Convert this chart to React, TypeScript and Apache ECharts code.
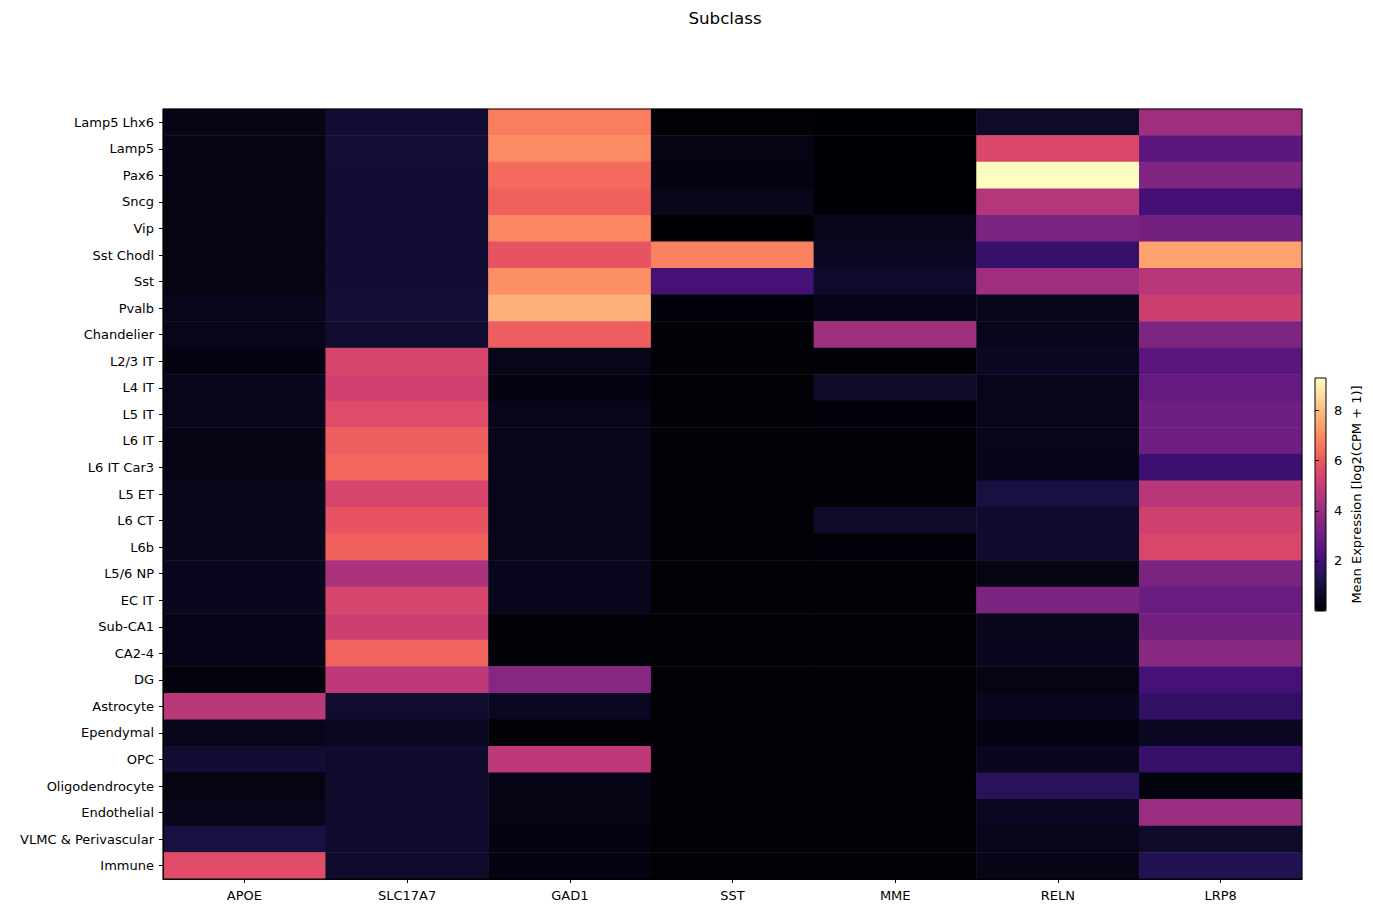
import React, { useEffect, useRef } from "react";
import * as echarts from "echarts";

// Cell types (rows, top to bottom) and genes (columns)
const subclasses = [
  "Lamp5 Lhx6", "Lamp5", "Pax6", "Sncg", "Vip", "Sst Chodl", "Sst", "Pvalb",
  "Chandelier", "L2/3 IT", "L4 IT", "L5 IT", "L6 IT", "L6 IT Car3", "L5 ET",
  "L6 CT", "L6b", "L5/6 NP", "EC IT", "Sub-CA1", "CA2-4", "DG", "Astrocyte",
  "Ependymal", "OPC", "Oligodendrocyte", "Endothelial", "VLMC & Perivascular", "Immune",
];
const genes = ["APOE", "SLC17A7", "GAD1", "SST", "MME", "RELN", "LRP8"];

// Mean expression per gene, one value per subclass (log2(CPM + 1))
const APOE = [0.35, 0.35, 0.35, 0.28, 0.3, 0.3, 0.3, 0.4, 0.4, 0.25, 0.4, 0.4, 0.35, 0.33, 0.45, 0.45, 0.45, 0.5, 0.5, 0.38, 0.38, 0.2, 4.7, 0.45, 0.9, 0.3, 0.45, 1.1, 5.65];
const SLC17A7 = [0.9, 0.95, 0.85, 0.85, 0.85, 0.85, 0.9, 0.95, 0.8, 5.35, 5.25, 5.65, 6.1, 6.3, 5.4, 5.85, 6.2, 4.4, 5.4, 5.15, 6.25, 4.8, 0.8, 0.55, 0.75, 0.75, 0.75, 0.75, 0.75];
const GAD1 = [6.75, 7.0, 6.4, 6.2, 6.95, 5.85, 7.1, 7.8, 6.1, 0.4, 0.25, 0.4, 0.4, 0.4, 0.4, 0.4, 0.4, 0.5, 0.5, 0.05, 0.05, 3.6, 0.55, 0.05, 4.8, 0.35, 0.3, 0.25, 0.25];
const SST = [0.08, 0.35, 0.25, 0.45, 0.02, 6.85, 2.1, 0.15, 0.08, 0.04, 0.04, 0.04, 0.04, 0.04, 0.04, 0.04, 0.04, 0.04, 0.04, 0.04, 0.04, 0.04, 0.04, 0.04, 0.04, 0.04, 0.04, 0.04, 0.04];
const MME = [0.02, 0.02, 0.02, 0.02, 0.45, 0.55, 0.75, 0.38, 4.15, 0.05, 0.7, 0.1, 0.08, 0.08, 0.08, 0.72, 0.1, 0.04, 0.04, 0.04, 0.04, 0.04, 0.04, 0.04, 0.04, 0.04, 0.04, 0.04, 0.04];
const RELN = [0.7, 5.5, 9.3, 4.6, 3.3, 1.75, 4.15, 0.45, 0.45, 0.6, 0.4, 0.4, 0.4, 0.38, 1.1, 0.75, 0.75, 0.3, 3.3, 0.45, 0.5, 0.3, 0.5, 0.25, 0.5, 1.5, 0.55, 0.42, 0.38];
const LRP8 = [4.15, 2.6, 3.45, 2.05, 3.15, 7.5, 4.65, 5.15, 3.4, 2.55, 2.8, 3.05, 3.05, 1.9, 4.65, 5.2, 5.45, 3.3, 2.9, 3.15, 3.65, 2.1, 1.65, 0.55, 1.75, 0.2, 4.0, 0.7, 1.35];

const expression = [APOE, SLC17A7, GAD1, SST, MME, RELN, LRP8];

// Colour bar range and ticks
const colorMin = 0;
const colorMax = 9.3;
const colorTicks = [2, 4, 6, 8];

const magma = [
  "#000004", "#07061C", "#140E36", "#251255", "#3B0F70", "#51127C", "#641A80",
  "#782281", "#8C2981", "#A1307E", "#B73779", "#CA3E72", "#DE4968", "#ED5A5F",
  "#F7705C", "#FC8961", "#FE9F6D", "#FEB77E", "#FECF92", "#FDE7A9", "#FCFDBF",
];

const FONT = "DejaVu Sans";
const TICK_FONT = 13;

export default function App() {
  const ref = useRef<HTMLDivElement>(null);

  useEffect(() => {
    document.body.style.margin = "0";
    if (!ref.current) return;
    const chart = echarts.init(ref.current, null, { renderer: "svg" });

    const cells: [number, number, number][] = [];
    expression.forEach((col, gi) => {
      col.forEach((v, ri) => cells.push([gi, ri, v]));
    });

    const plot = { left: 163, top: 109, width: 1139, height: 770 };
    const bar = { left: 1315, top: 378, width: 11, height: 233 };

    chart.setOption({
      animation: false,
      backgroundColor: "#ffffff",
      title: {
        text: "Subclass",
        left: 720,
        textAlign: "center",
        top: 4,
        textStyle: { fontFamily: FONT, fontSize: 16.7, fontWeight: "normal", color: "#000" },
      },
      grid: [
        { ...plot, show: true, borderColor: "#000", borderWidth: 1, backgroundColor: "transparent", z: 10 },
        { ...bar, show: true, borderColor: "#000", borderWidth: 1, backgroundColor: "transparent", z: 10 },
      ],
      xAxis: [
        {
          type: "category",
          gridIndex: 0,
          data: genes,
          axisLine: { show: true, lineStyle: { color: "#000", width: 1 } },
          axisTick: { show: true, alignWithLabel: true, length: 4, lineStyle: { color: "#000" } },
          axisLabel: { color: "#000", fontFamily: FONT, fontSize: TICK_FONT, margin: 10 },
          splitLine: { show: false },
          z: 10,
        },
        { type: "value", gridIndex: 1, show: false, min: 0, max: 1 },
      ],
      yAxis: [
        {
          type: "category",
          gridIndex: 0,
          data: subclasses,
          inverse: true,
          axisLine: { show: true, lineStyle: { color: "#000", width: 1 } },
          axisTick: { show: true, alignWithLabel: true, length: 4, lineStyle: { color: "#000" } },
          axisLabel: {
            color: "#000",
            fontFamily: FONT,
            fontSize: TICK_FONT,
            margin: 9,
            padding: [4, 0, 0, 0],
          },
          splitLine: { show: false },
          z: 10,
        },
        {
          type: "value",
          gridIndex: 1,
          position: "right",
          min: colorMin,
          max: colorMax,
          axisLine: { show: false },
          axisTick: { show: true, length: 4, lineStyle: { color: "#000" }, customValues: colorTicks },
          axisLabel: { color: "#000", fontFamily: FONT, fontSize: TICK_FONT, margin: 8, customValues: colorTicks },
          splitLine: { show: false },
          name: "Mean Expression [log2(CPM + 1)]",
          nameLocation: "middle",
          nameRotate: 90,
          nameGap: 24,
          nameTextStyle: { color: "#000", fontFamily: FONT, fontSize: TICK_FONT },
          z: 10,
        },
      ],
      visualMap: {
        type: "continuous",
        seriesIndex: 0,
        min: colorMin,
        max: colorMax,
        calculable: false,
        orient: "vertical",
        left: bar.left,
        top: bar.top,
        itemWidth: bar.width,
        itemHeight: bar.height,
        padding: 0,
        text: null,
        showLabel: false,
        inRange: { color: magma },
      },
      series: [
        {
          type: "heatmap",
          xAxisIndex: 0,
          yAxisIndex: 0,
          data: cells,
          itemStyle: { borderWidth: 0 },
          emphasis: { disabled: true },
        },
      ],
    });

    return () => chart.dispose();
  }, []);

  return <div ref={ref} style={{ width: 1373, height: 913 }} />;
}
